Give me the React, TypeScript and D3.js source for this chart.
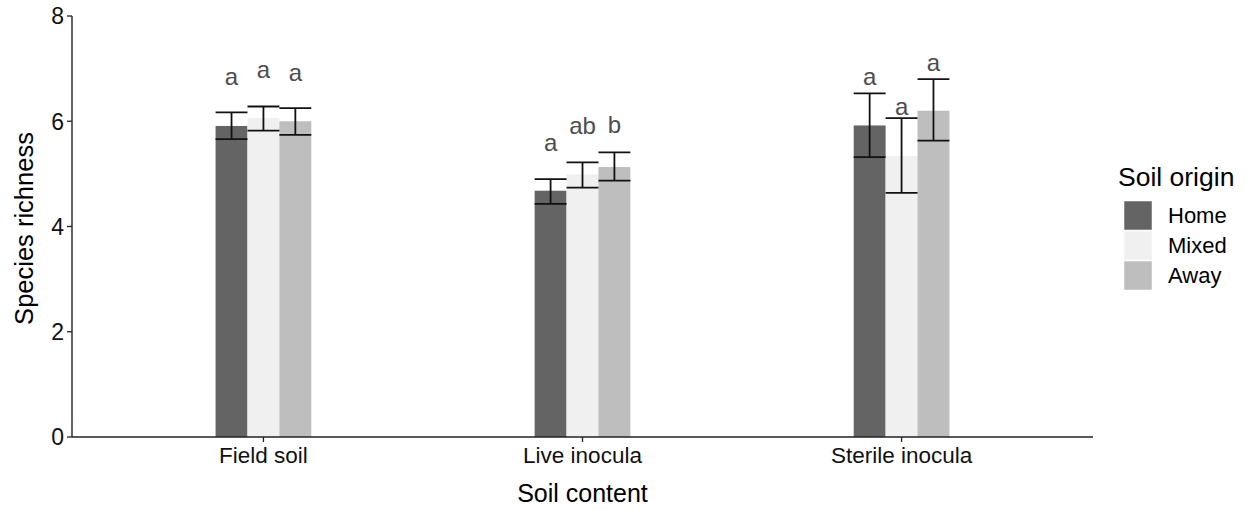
import React from "react";
import * as d3 from "d3";

const categories = ["Field soil", "Live inocula", "Sterile inocula"];
const origins = ["Home", "Mixed", "Away"];
const colors = ["#646464", "#f0f0f0", "#bebebe"];
// means per category, per origin
const means = [
  [5.91, 6.06, 6.0],
  [4.68, 4.99, 5.13],
  [5.92, 5.34, 6.2],
];
const lowers = [
  [5.66, 5.82, 5.74],
  [4.43, 4.74, 4.87],
  [5.32, 4.64, 5.63],
];
const uppers = [
  [6.17, 6.28, 6.25],
  [4.9, 5.22, 5.41],
  [6.53, 6.06, 6.8],
];
const letters = [
  ["a", "a", "a"],
  ["a", "ab", "b"],
  ["a", "a", "a"],
];
const letterY = [
  [6.69, 6.83, 6.77],
  [5.44, 5.75, 5.77],
  [6.69, 6.12, 6.96],
];
const yTicks = [0, 2, 4, 6, 8];

const W = 1251;
const H = 510;
const left = 72;
const right = 1093;
const top = 16;
const bottom = 437;
const font = "'Liberation Sans', Arial, sans-serif";

export default function App() {
  const y = d3.scaleLinear().domain([0, 8]).range([bottom, top]);
  // ggplot-style discrete axis: positions 1..3 with 0.6 expansion
  const x = d3.scaleLinear().domain([0.4, 3.6]).range([left, right]);
  const barW = 0.1;
  const bw = x(barW) - x(0);

  return (
    <svg width={W} height={H} style={{ position: "absolute", left: 0, top: 0 }} fontFamily={font}>
      <rect width={W} height={H} fill="#fff" />
      {categories.map((c, ci) =>
        origins.map((o, oi) => {
          const cx = x(ci + 1 + (oi - 1) * barW);
          return (
            <g key={c + o}>
              <rect x={cx - bw / 2} y={y(means[ci][oi])} width={bw} height={y(0) - y(means[ci][oi])} fill={colors[oi]} />
            </g>
          );
        })
      )}
      {categories.map((c, ci) =>
        origins.map((o, oi) => {
          const cx = x(ci + 1 + (oi - 1) * barW);
          const yl = y(lowers[ci][oi]);
          const yu = y(uppers[ci][oi]);
          return (
            <g key={"e" + c + o} stroke="#111" strokeWidth={1.8}>
              <line x1={cx} x2={cx} y1={yl} y2={yu} />
              <line x1={cx - bw / 2} x2={cx + bw / 2} y1={yl} y2={yl} />
              <line x1={cx - bw / 2} x2={cx + bw / 2} y1={yu} y2={yu} />
            </g>
          );
        })
      )}
      {categories.map((c, ci) =>
        origins.map((o, oi) => {
          const cx = x(ci + 1 + (oi - 1) * barW);
          return (
            <text key={"l" + c + o} x={cx} y={y(letterY[ci][oi])} textAnchor="middle" fontSize={24} fill="#4d4d4d">
              {letters[ci][oi]}
            </text>
          );
        })
      )}
      {/* axes */}
      <line x1={left} x2={left} y1={top} y2={bottom} stroke="#222" strokeWidth={1.4} />
      <line x1={left} x2={right} y1={bottom} y2={bottom} stroke="#222" strokeWidth={1.4} />
      {yTicks.map((t) => (
        <g key={"yt" + t}>
          <line x1={left - 5} x2={left} y1={y(t)} y2={y(t)} stroke="#222" strokeWidth={1.3} />
          <text x={left - 8} y={y(t)} dy="0.36em" textAnchor="end" fontSize={23} fill="#111">
            {t}
          </text>
        </g>
      ))}
      {categories.map((c, ci) => (
        <g key={"xt" + c}>
          <line x1={x(ci + 1)} x2={x(ci + 1)} y1={bottom} y2={bottom + 5} stroke="#222" strokeWidth={1.3} />
          <text x={x(ci + 1)} y={463} textAnchor="middle" fontSize={22.5} fill="#111">
            {c}
          </text>
        </g>
      ))}
      <text x={(left + right) / 2} y={502} textAnchor="middle" fontSize={25} fill="#000">
        Soil content
      </text>
      <text transform={`translate(33, ${(top + bottom) / 2 + 2}) rotate(-90)`} textAnchor="middle" fontSize={25.5} fill="#000">
        Species richness
      </text>
      {/* legend */}
      <text x={1118} y={186} fontSize={26.5} fill="#000">
        Soil origin
      </text>
      {origins.map((o, oi) => (
        <g key={"lg" + o}>
          <rect x={1124} y={201 + oi * 30} width={28} height={29} fill={colors[oi]} stroke="#fff" strokeWidth={0.5} />
          <text x={1168} y={201 + oi * 30 + 14.5} dy="0.36em" fontSize={22} fill="#000">
            {o}
          </text>
        </g>
      ))}
    </svg>
  );
}
